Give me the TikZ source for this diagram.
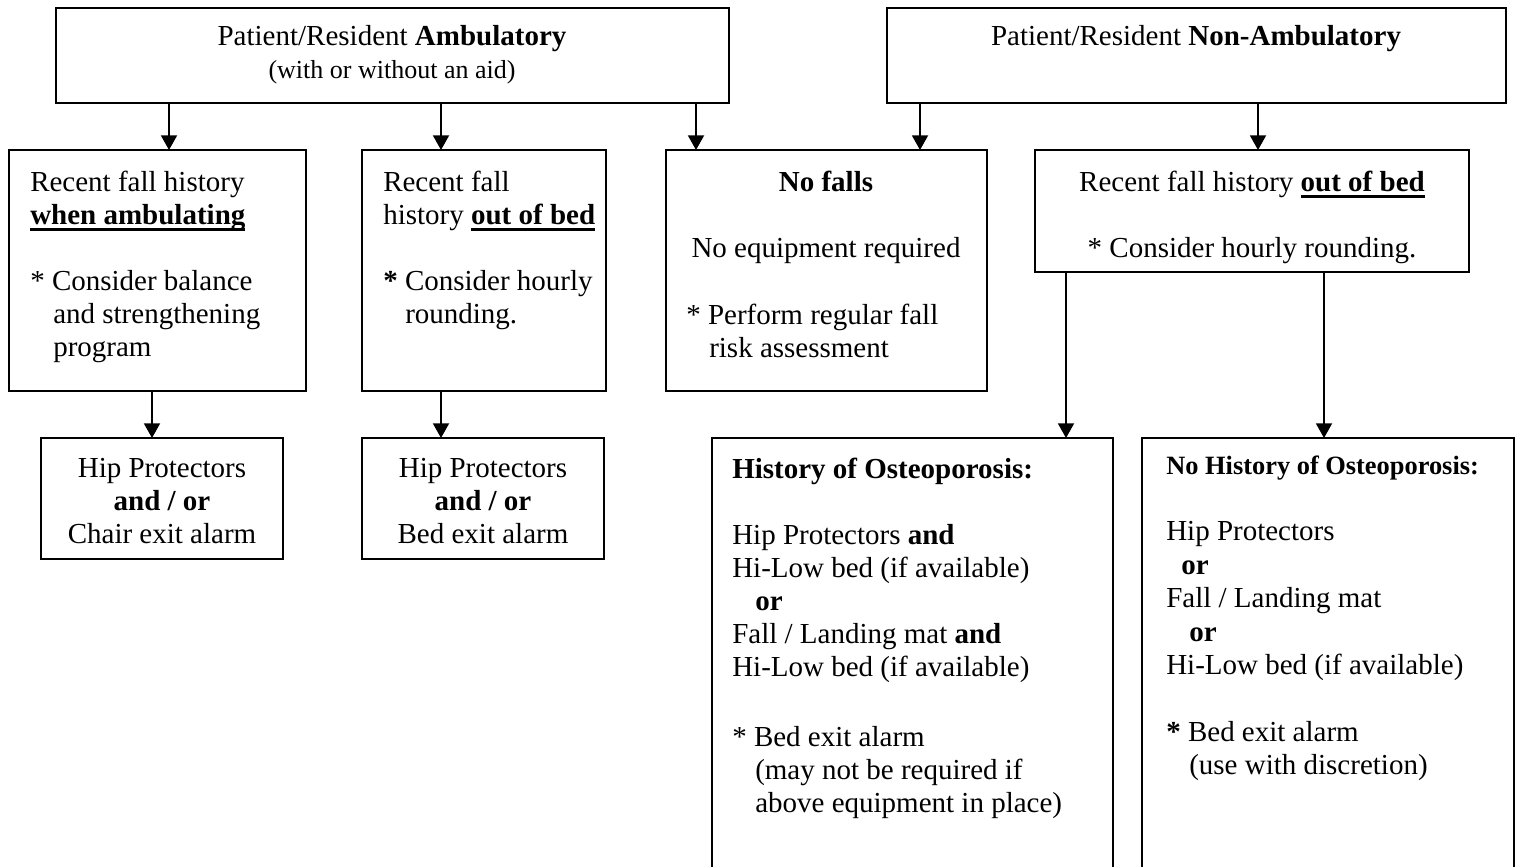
\documentclass[tikz,border=0pt]{standalone}
\usepackage{fontspec}
\setmainfont{Liberation Serif}
\usetikzlibrary{arrows.meta,fit}
\newcommand\bodysz{\fontsize{21.75}{24}\selectfont}
\newcommand\topsz{\fontsize{19.5}{22}\selectfont}
\newcommand\smsz{\fontsize{19.8}{22}\selectfont}
\newcommand\myul[1]{\setbox0\hbox{#1}\rlap{\rule[-5pt]{\wd0}{1.8pt}}\box0}
\tikzset{
  box/.style={draw, line width=1.4pt, inner sep=0pt},
  arr/.style={line width=1.4pt, -{Triangle[width=12pt,length=11pt]}},
  conn/.style={line width=1.4pt},
  tl/.style={inner sep=0pt, anchor=base west, font=\bodysz},
  tc/.style={inner sep=0pt, anchor=base, font=\bodysz},
}
\begin{document}
\begin{tikzpicture}[x=0.75pt,y=-0.75pt]
\useasboundingbox (0,0) rectangle (1517,867);
% boxes
\node[box, fit={(56,8)(729,103)}] (A) {};
\node[box, fit={(887,8)(1506,103)}] (B) {};
\node[box, fit={(9,150)(306,391)}] (C1) {};
\node[box, fit={(362,150)(606,391)}] (C2) {};
\node[box, fit={(666,150)(987,391)}] (C3) {};
\node[box, fit={(1035,150)(1469,272)}] (C4) {};
\node[box, fit={(41,438)(283,559)}] (D1) {};
\node[box, fit={(362,438)(604,559)}] (D2) {};
\node[box, fit={(712,438)(1113,900)}] (E1) {};
\node[box, fit={(1142,438)(1514,900)}] (E2) {};
% texts
\node[tc] (ta1) at (392,46) {Patient/Resident \textbf{Ambulatory}};
\node[tc, font=\topsz] (ta2) at (392,79) {(with or without an aid)};
\node[tc] (tb1) at (1196,46) {Patient/Resident \textbf{Non-Ambulatory}};

\node[tl] (c1a) at (30,191) {Recent fall history};
\node[tl] (c1b) at (30,224) {\myul{\textbf{when ambulating}}};
\node[tl] (c1c) at (30,290) {* Consider balance};
\node[tl] (c1d) at (53,323) {and strengthening};
\node[tl] (c1e) at (53,356) {program};

\node[tl] (c2a) at (383,191) {Recent fall};
\node[tl] (c2b) at (383,224) {history \myul{\textbf{out of bed}}};
\node[tl] (c2c) at (383,290) {\textbf{*} Consider hourly};
\node[tl] (c2d) at (405,323) {rounding.};

\node[tc] (c3a) at (826,191) {\textbf{No falls}};
\node[tc] (c3b) at (826,257) {No equipment required};
\node[tl] (c3c) at (686,324) {* Perform regular fall};
\node[tl] (c3d) at (709,357) {risk assessment};

\node[tc] (c4a) at (1252,191) {Recent fall history \myul{\textbf{out of bed}}};
\node[tc] (c4b) at (1252,257) {* Consider hourly rounding.};

\node[tc] (d1a) at (162,477) {Hip Protectors};
\node[tc] (d1b) at (162,510) {\textbf{and / or}};
\node[tc] (d1c) at (162,543) {Chair exit alarm};
\node[tc] (d2a) at (483,477) {Hip Protectors};
\node[tc] (d2b) at (483,510) {\textbf{and / or}};
\node[tc] (d2c) at (483,543) {Bed exit alarm};

\node[tl] (e1a) at (732,478) {\textbf{History of Osteoporosis:}};
\node[tl] (e1b) at (732,544) {Hip Protectors \textbf{and}};
\node[tl] (e1c) at (732,577) {Hi-Low bed (if available)};
\node[tl] (e1d) at (755,610) {\textbf{or}};
\node[tl] (e1e) at (732,643) {Fall / Landing mat \textbf{and}};
\node[tl] (e1f) at (732,676) {Hi-Low bed (if available)};
\node[tl] (e1g) at (732,746) {* Bed exit alarm};
\node[tl] (e1h) at (755,779) {(may not be required if};
\node[tl] (e1i) at (755,812) {above equipment in place)};

\node[tl, font=\smsz] (e2a) at (1166,474) {\textbf{No History of Osteoporosis:}};
\node[tl] (e2b) at (1166,540) {Hip Protectors};
\node[tl] (e2c) at (1181,574) {\textbf{or}};
\node[tl] (e2d) at (1166,607) {Fall / Landing mat};
\node[tl] (e2e) at (1189,641) {\textbf{or}};
\node[tl] (e2f) at (1166,674) {Hi-Low bed (if available)};
\node[tl] (e2g) at (1166,741) {\textbf{*} Bed exit alarm};
\node[tl] (e2h) at (1189,774) {(use with discretion)};

% connector end coordinates
\coordinate (p1) at (169,150);
\coordinate (p2) at (441,150);
\coordinate (p3) at (696,150);
\coordinate (p4) at (920,150);
\coordinate (p5) at (1258,150);
\coordinate (q1) at (152,438);
\coordinate (q2) at (441,438);
\coordinate (r1) at (1066,438);
\coordinate (r2) at (1324,438);

\draw[arr] (p1 |- A.south) -- (p1);
\draw[arr] (p2 |- A.south) -- (p2);
\draw[arr] (p3 |- A.south) -- (p3);
\draw[arr] (p4 |- B.south) -- (p4);
\draw[arr] (p5 |- B.south) -- (p5);
\draw[arr] (q1 |- C1.south) -- (q1);
\draw[arr] (q2 |- C2.south) -- (q2);
\draw[arr] (r1 |- C4.south) -- (r1);
\draw[arr] (r2 |- C4.south) -- (r2);
\end{tikzpicture}
\end{document}
